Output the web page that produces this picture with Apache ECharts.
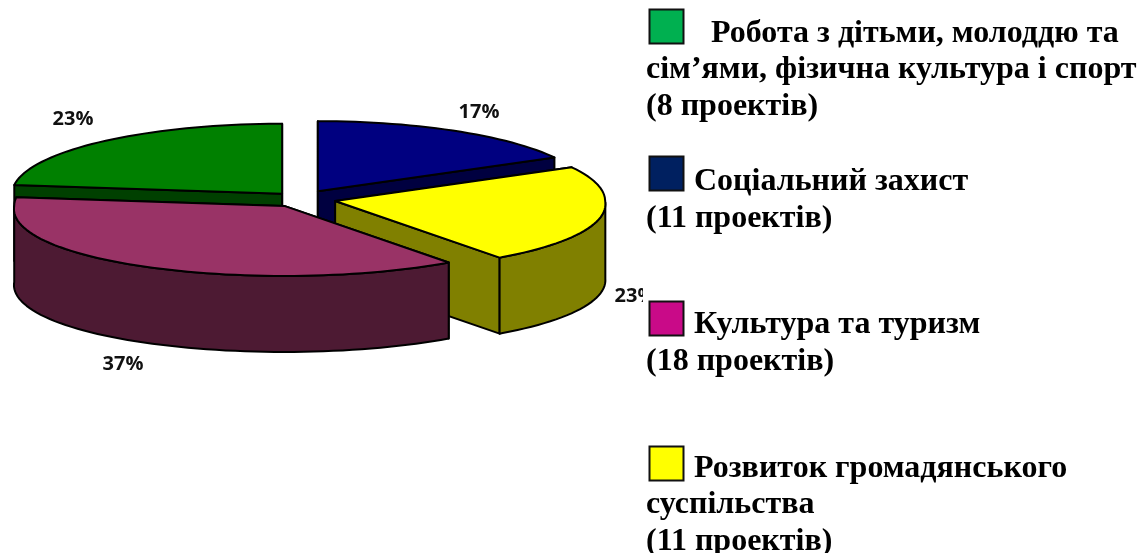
<!DOCTYPE html>
<html>
<head>
<meta charset="utf-8">
<style>
html, body { margin: 0; padding: 0; background: #fff; }
#fig_pie { width: 1145px; height: 553px; }
</style>
<script src="https://cdn.jsdelivr.net/npm/echarts@6/dist/echarts.min.js"></script>
</head>
<body>
<div id="fig_pie"></div>
<script>
// slices clockwise from 12 o'clock
var slice_values = [17, 23, 37, 23];
var slice_labels = ['17%', '23%', '37%', '23%'];

var legend_first = 'Робота з дітьми, молоддю та';
var legend_second = 'сім’ями, фізична культура і спорт';
var legend_third = '(8 проектів)';
var legend_social = 'Соціальний захист';
var legend_social_count = '(11 проектів)';
var legend_culture = 'Культура та туризм';
var legend_culture_count = '(18 проектів)';
var legend_civil = 'Розвиток громадянського';
var legend_civil_second = 'суспільства';
var legend_civil_count = '(11 проектів)';

// look of the pie
var top_colors = ['#000080', '#ffff00', '#993366', '#008000'];
var side_colors = ['#000040', '#808000', '#4d1a33', '#004000'];
var explode = [35, 36, 31, 27];
var label_pos = [[479, 112], [635, 296], [123, 364], [73, 119]];
var paint_order = [3, 0, 1, 2];
var cx = 300, cy = 199, rx = 270, ry = 70, depth = 76;
var front_stretch = 0.045;

var total = slice_values.reduce(function(a, b) { return a + b; }, 0);

function rim(ox, oy, deg) {
    var a = deg * Math.PI / 180;
    // the near half of the old chart is a little wider
    var w = rx * (1 + front_stretch * Math.max(0, -Math.cos(a)));
    return [ox + w * Math.sin(a), oy - ry * Math.cos(a)];
}

function down(p) {
    return [p[0], p[1] + depth];
}

function renderSlice(params, api) {
    var idx = api.value(0);
    var start = 0;
    for (var i = 0; i < idx; i++) {
        start += slice_values[i] / total * 360;
    }
    var end = start + api.value(1) / total * 360;
    var mid = (start + end) / 2 * Math.PI / 180;
    var ox = cx + explode[idx] * Math.sin(mid);
    var oy = cy - explode[idx] * ry / rx * Math.cos(mid);

    var arc = [];
    for (var d = start; d < end; d += 2) {
        arc.push(rim(ox, oy, d));
    }
    arc.push(rim(ox, oy, end));

    var children = [];
    function face(points, color) {
        children.push({
            type: 'polygon',
            shape: { points: points },
            style: { fill: color, stroke: '#000', lineWidth: 2, lineJoin: 'round' }
        });
    }

    // cut faces first, the rim wall over them, the top last
    var apex = [ox, oy];
    var a0 = arc[0], a1 = arc[arc.length - 1];
    face([apex, a0, down(a0), down(apex)], side_colors[idx]);
    face([apex, a1, down(a1), down(apex)], side_colors[idx]);

    var front = arc.filter(function(p, k) {
        var deg = Math.min(start + k * 2, end);
        return deg >= 90 && deg <= 270;
    });
    if (front.length > 1) {
        face(front.concat(front.map(down).reverse()), side_colors[idx]);
    }
    face([apex].concat(arc), top_colors[idx]);

    children.push({
        type: 'text',
        x: label_pos[idx][0],
        y: label_pos[idx][1],
        style: {
            text: slice_labels[idx],
            fill: '#111',
            font: 'bold 20px "Open Sans"',
            align: 'center',
            verticalAlign: 'middle'
        }
    });
    return { type: 'group', children: children };
}

function legendText(text, x, bottom) {
    return {
        type: 'text',
        x: x,
        y: bottom,
        z: 12,
        style: {
            text: text,
            fill: '#000',
            font: 'bold 32px "Liberation Serif"',
            verticalAlign: 'bottom'
        }
    };
}

function legendBox(color, y) {
    return {
        type: 'rect',
        z: 12,
        shape: { x: 649.5, y: y, width: 34, height: 34 },
        style: { fill: color, stroke: '#111', lineWidth: 2 }
    };
}

var option = {
    animation: false,
    backgroundColor: '#fff',
    series: [{
        type: 'custom',
        coordinateSystem: 'none',
        silent: true,
        renderItem: renderSlice,
        data: paint_order.map(function(i) { return [i, slice_values[i]]; })
    }],
    graphic: {
        elements: [
            // legend sits on a white box that cuts off the right 23% label
            { type: 'rect', z: 11, shape: { x: 643, y: 0, width: 502, height: 553 }, style: { fill: '#fff' } },
            legendBox('#00b050', 9.5),
            legendText(legend_first, 711, 50),
            legendText(legend_second, 646, 86),
            legendText(legend_third, 646, 123),
            legendBox('#002060', 156.5),
            legendText(legend_social, 694, 198),
            legendText(legend_social_count, 646, 235),
            legendBox('#c90a88', 301.5),
            legendText(legend_culture, 694, 341),
            legendText(legend_culture_count, 646, 378),
            legendBox('#ffff00', 446.5),
            legendText(legend_civil, 694, 485),
            legendText(legend_civil_second, 646, 521),
            legendText(legend_civil_count, 646, 558)
        ]
    }
};

var chart = echarts.init(document.getElementById('fig_pie'));
chart.setOption(option);
</script>
</body>
</html>
